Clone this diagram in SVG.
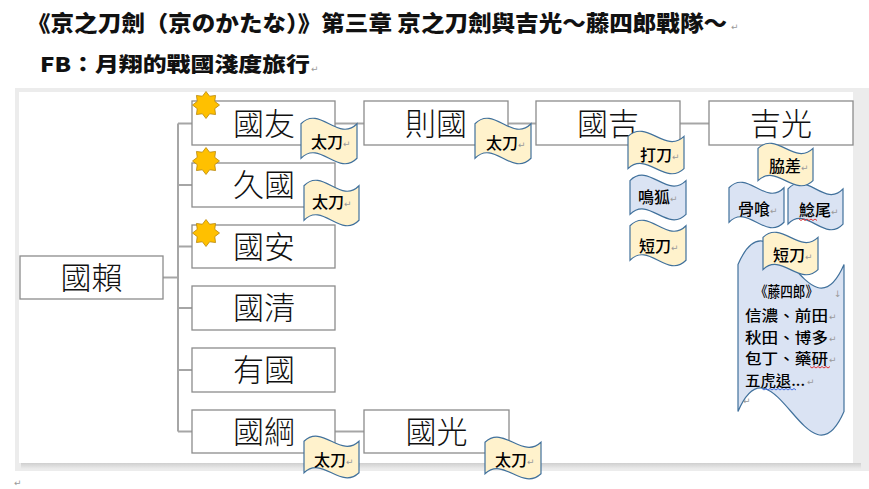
<svg xmlns="http://www.w3.org/2000/svg" xmlns:xlink="http://www.w3.org/1999/xlink" width="869" height="489" viewBox="0 0 869 489">
<defs>
<style>
.box{fill:#fff;stroke:#8c8c8c;stroke-width:1.3}
.conn{stroke:#a6a6a6;stroke-width:2;fill:none}
.nt{font-family:"Noto Sans CJK TC","Noto Sans CJK JP",sans-serif;font-size:31px;font-weight:300;fill:#111;text-anchor:middle}
.y{fill:#FFF2CC;stroke:#41719C;stroke-width:1.2}
.b{fill:#DAE3F3;stroke:#41719C;stroke-width:1.2}
.lbl{font-family:"Noto Sans CJK TC","Noto Sans CJK JP",sans-serif;font-size:16px;font-weight:500;fill:#000;text-anchor:middle}
.bt{font-family:"Noto Sans CJK TC","Noto Sans CJK JP",sans-serif;font-size:14.5px;font-weight:500;fill:#000}
.pm{font-family:"DejaVu Sans",sans-serif;font-size:9px;fill:#9a9a9a}
.ttl{font-family:"Noto Sans CJK TC","Noto Sans CJK JP",sans-serif;font-weight:900;fill:#111}
.star{fill:#FFC000;stroke:#B8860B;stroke-width:0.8}
.sq{fill:none;stroke-width:0.9}
</style>
<polygon id="star" points="0,-13.5 3.64,-8.78 9.55,-9.55 8.78,-3.64 13.5,0 8.78,3.64 9.55,9.55 3.64,8.78 0,13.5 -3.64,8.78 -9.55,9.55 -8.78,3.64 -13.5,0 -8.78,-3.64 -9.55,-9.55 -3.64,-8.78"/>
<linearGradient id="shb" x1="0" y1="0" x2="0" y2="1">
<stop offset="0" stop-color="#cfcfcf"/>
<stop offset="1" stop-color="#ececec"/>
</linearGradient>
</defs>
<rect x="0" y="0" width="869" height="489" fill="#fff"/>
<!-- title -->
<text class="ttl" x="27" y="30.5" font-size="22" textLength="700" lengthAdjust="spacingAndGlyphs">《京之刀劍（京のかたな）》第三章 京之刀劍與吉光～藤四郎戰隊～</text>
<text class="pm" x="731" y="30">↵</text>
<text class="ttl" x="40" y="72" font-size="20" textLength="270" lengthAdjust="spacingAndGlyphs">FB：月翔的戰國淺度旅行</text>
<text class="pm" x="311" y="72">↵</text>
<!-- frame -->
<rect x="15" y="88" width="854" height="383" fill="#ececec"/>
<rect x="21" y="463" width="840" height="6" fill="url(#shb)"/>
<rect x="19" y="92" width="834" height="371" fill="#fff"/>
<text class="pm" x="14" y="486">↵</text>
<!-- connectors -->
<g id="connectors">
<path class="conn" d="M163,277.5 H178"/>
<path class="conn" d="M178,123.5 V431.5"/>
<path class="conn" d="M178,123.5 H192 M178,185 H192 M178,246.5 H192 M178,308 H192 M178,370 H192 M178,431.5 H192"/>
<path class="conn" d="M335,123.5 H364"/>
<path class="conn" d="M508,123.5 H536"/>
<path class="conn" d="M680,123.5 H709"/>
<path class="conn" d="M335,431.5 H364"/>
</g>
<!-- nodes -->
<g id="n-guolai"><rect class="box" x="20" y="256" width="143" height="43"/><text class="nt" x="91.5" y="288.5">國賴</text></g>
<g id="n-guoyou"><rect class="box" x="192" y="101" width="143" height="44"/><text class="nt" x="264" y="134.5">國友</text><use xlink:href="#star" class="star" transform="translate(206,105)"/></g>
<g id="n-jiuguo"><rect class="box" x="192" y="163" width="143" height="44"/><text class="nt" x="264" y="196">久國</text><use xlink:href="#star" class="star" transform="translate(206,161)"/></g>
<g id="n-guoan"><rect class="box" x="192" y="225" width="143" height="43"/><text class="nt" x="264" y="257.5">國安</text><use xlink:href="#star" class="star" transform="translate(206,233)"/></g>
<g id="n-guoqing"><rect class="box" x="192" y="286" width="143" height="44"/><text class="nt" x="264" y="319">國清</text></g>
<g id="n-youguo"><rect class="box" x="192" y="348" width="143" height="44"/><text class="nt" x="264" y="381">有國</text></g>
<g id="n-guogang"><rect class="box" x="192" y="410" width="143" height="43"/><text class="nt" x="264" y="442.5">國綱</text></g>
<g id="n-zeguo"><rect class="box" x="364" y="101" width="144" height="44"/><text class="nt" x="436" y="134.5">則國</text></g>
<g id="n-guoji"><rect class="box" x="536" y="101" width="144" height="44"/><text class="nt" x="608" y="134.5">國吉</text></g>
<g id="n-jiguang"><rect class="box" x="709" y="101" width="144" height="44"/><text class="nt" x="781" y="134.5">吉光</text></g>
<g id="n-guoguang"><rect class="box" x="364" y="410" width="145" height="43"/><text class="nt" x="436.5" y="442.5">國光</text></g>
<!-- banners -->
<g id="b-tachi1"><path class="y" d="M301,123.75 C319.7,104.6 338.3,142.9 357,123.75 L357,158.25 C338.3,177.4 319.7,139.1 301,158.25 Z"/><text class="lbl" x="327" y="148">太刀</text><text class="pm" x="343" y="147">↵</text></g>
<g id="b-tachi2"><path class="y" d="M304,185.75 C322.3,166.6 340.7,204.9 359,185.75 L359,220.25 C340.7,239.4 322.3,201.1 304,220.25 Z"/><text class="lbl" x="328" y="208">太刀</text><text class="pm" x="344" y="207">↵</text></g>
<g id="b-tachi3"><path class="y" d="M475,123.75 C493.7,104.6 512.3,142.9 531,123.75 L531,158.25 C512.3,177.4 493.7,139.1 475,158.25 Z"/><text class="lbl" x="502" y="149">太刀</text><text class="pm" x="518" y="148">↵</text></g>
<g id="b-uchigatana"><path class="y" d="M628,136.4 C646.7,118.5 665.3,154.3 684,136.4 L684,168.6 C665.3,186.5 646.7,150.7 628,168.6 Z"/><text class="lbl" x="656" y="161">打刀</text><text class="pm" x="672" y="160">↵</text></g>
<g id="b-nakigitsune"><path class="b" d="M630,180.6 C648.7,161.9 667.3,199.4 686,180.6 L686,214.4 C667.3,233.1 648.7,195.6 630,214.4 Z"/><text class="lbl" x="654" y="203">鳴狐</text><text class="pm" x="670" y="202">↵</text></g>
<g id="b-tanto1"><path class="y" d="M630,225.75 C648.7,206.6 667.3,244.9 686,225.75 L686,260.25 C667.3,279.4 648.7,241.1 630,260.25 Z"/><text class="lbl" x="655" y="252">短刀</text><text class="pm" x="671" y="251">↵</text></g>
<g id="b-honebami"><path class="b" d="M729,187.75 C747.3,168.6 765.7,206.9 784,187.75 L784,222.25 C765.7,241.4 747.3,203.1 729,222.25 Z"/><text class="lbl" x="754" y="215">骨喰</text><text class="pm" x="770" y="214">↵</text></g>
<g id="b-namazuo"><path class="b" d="M788,188.9 C806.3,169.3 824.7,208.5 843,188.9 L843,224.1 C824.7,243.7 806.3,204.5 788,224.1 Z"/><text class="lbl" x="815" y="216">鯰尾</text><text class="pm" x="831" y="215">↵</text><path class="sq" stroke="#e02020" d="M799,219 l2,1.5 l2,-1.5 l2,1.5 l2,-1.5 l2,1.5 l2,-1.5 l2,1.5 l2,-1.5 l2,1.5"/></g>
<g id="b-wakizashi"><path class="y" d="M758,148.4 C776.3,130.5 794.7,166.3 813,148.4 L813,180.6 C794.7,198.5 776.3,162.7 758,180.6 Z"/><text class="lbl" x="785" y="172">脇差</text><text class="pm" x="801" y="171">↵</text></g>
<g id="b-toshiro"><path class="b" d="M738,264.5 C773.3,182.8 808.7,346.2 844,264.5 L844,411.5 C808.7,493.2 773.3,329.8 738,411.5 Z"/>
<text class="bt" x="755" y="297" font-size="14.5" textLength="63" lengthAdjust="spacingAndGlyphs">《藤四郎》</text><text class="pm" x="834" y="297">↓</text>
<text class="bt" x="745" y="321" textLength="83" lengthAdjust="spacingAndGlyphs">信濃、前田</text><text class="pm" x="829" y="320">↵</text>
<text class="bt" x="745" y="342.5" textLength="83" lengthAdjust="spacingAndGlyphs">秋田、博多</text><text class="pm" x="829" y="341.5">↵</text>
<text class="bt" x="745" y="364" textLength="83" lengthAdjust="spacingAndGlyphs">包丁、藥研</text><text class="pm" x="829" y="363">↵</text>
<path class="sq" stroke="#e02020" d="M810,366.5 l2,1.5 l2,-1.5 l2,1.5 l2,-1.5 l2,1.5 l2,-1.5 l2,1.5 l2,-1.5 l2,1.5 l2,-1.5"/>
<text class="bt" x="745" y="385.5" textLength="60" lengthAdjust="spacingAndGlyphs">五虎退...</text><text class="pm" x="807" y="384.5">↵</text>
<path class="sq" stroke="#3060e0" d="M762,388.5 l2,1.5 l2,-1.5 l2,1.5 l2,-1.5 l2,1.5 l2,-1.5 l2,1.5 l2,-1.5 l2,1.5 l2,-1.5 l2,1.5 l2,-1.5 l2,1.5 l2,-1.5 l2,1.5 l2,-1.5 l2,1.5"/>
<text class="pm" x="743" y="404">↵</text></g>
<g id="b-tanto2"><path class="y" d="M763,237.4 C781.3,219.5 799.7,255.3 818,237.4 L818,269.6 C799.7,287.5 781.3,251.7 763,269.6 Z"/><text class="lbl" x="789" y="261">短刀</text><text class="pm" x="805" y="260">↵</text></g>
<g id="b-tachi4"><path class="y" d="M304,441.25 C322.3,423.75 340.7,458.75 359,441.25 L359,472.75 C340.7,490.25 322.3,455.25 304,472.75 Z"/><text class="lbl" x="330" y="466">太刀</text><text class="pm" x="346" y="465">↵</text></g>
<g id="b-tachi5"><path class="y" d="M485,442.25 C503.7,424.75 522.3,459.75 541,442.25 L541,473.75 C522.3,491.25 503.7,456.25 485,473.75 Z"/><text class="lbl" x="511" y="466">太刀</text><text class="pm" x="527" y="465">↵</text></g>
</svg>
